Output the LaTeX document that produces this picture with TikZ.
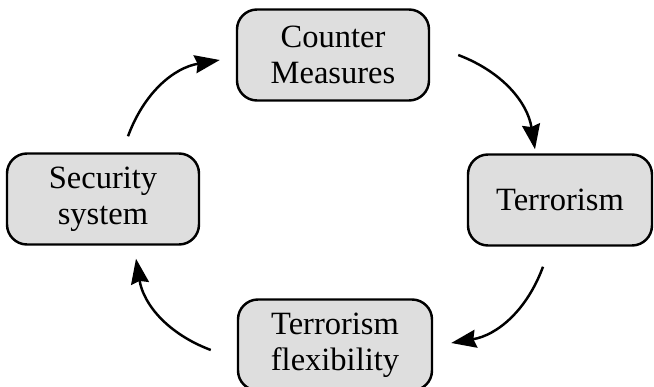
\documentclass[tikz,border=0pt]{standalone}
\usepackage{fontspec}
\setmainfont{Liberation Serif}
\usetikzlibrary{arrows.meta}
\tikzset{
  box/.style={draw=black, line width=1.4pt, fill=black!13, rounded corners=0.4cm,
    minimum width=3.84cm, minimum height=1.82cm, align=center,
    font=\fontsize{18.5}{20.5}\selectfont},
  flow/.style={line width=1.4pt, -{Stealth[length=0.5cm, width=0.36cm, inset=0.05cm]}}
}
\begin{document}
\begin{tikzpicture}
    \useasboundingbox (0,0) rectangle (13.08,7.74);
    \node[box] (cm)  at (6.66, 6.64) {Counter\\Measures};
    \node[box, minimum width=3.68cm] (ter) at (11.2, 3.74) {Terrorism};
    \node[box] (ss)  at (2.06, 3.76) {Security\\system};
    \node[box, minimum width=3.88cm] (tf)  at (6.7, 0.84) {Terrorism\\flexibility};

    \draw[flow] ([xshift=0.56cm]cm.east) to[bend left=30] ([xshift=-0.5cm,yshift=0.08cm]ter.north);
    \draw[flow] ([xshift=-0.34cm,yshift=-0.4cm]ter.south) to[bend left=30] ([xshift=0.36cm,yshift=0.04cm]tf.east);
    \draw[flow] ([xshift=-0.52cm,yshift=-0.1cm]tf.west) to[bend left=30] ([xshift=0.66cm,yshift=-0.26cm]ss.south);
    \draw[flow] ([xshift=0.5cm,yshift=0.32cm]ss.north) to[bend left=30] ([xshift=-0.32cm,yshift=-0.1cm]cm.west);
  \end{tikzpicture}
\end{document}
